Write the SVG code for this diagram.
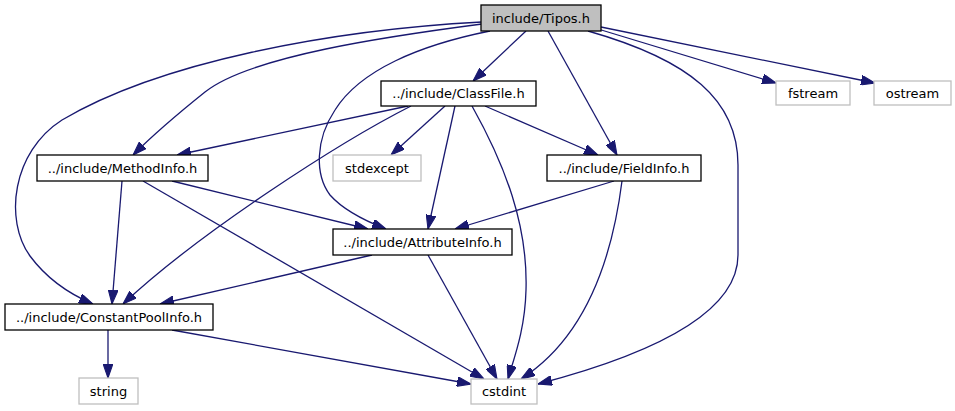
<svg xmlns="http://www.w3.org/2000/svg" width="955" height="411" viewBox="0 0 955 411">
<style>
.n rect{fill:#ffffff;stroke:#000000;stroke-width:1.3}
.x rect{fill:#ffffff;stroke:#bfbfbf;stroke-width:1.3}
.n text,.x text{font-family:"DejaVu Sans","Liberation Sans",sans-serif;font-size:13px;fill:#000000;text-anchor:middle}
#edges path{fill:none;stroke:#191970;stroke-width:1.3;marker-end:url(#ah)}
</style>
<defs>
<marker id="ah" markerUnits="userSpaceOnUse" markerWidth="14" markerHeight="10" viewBox="0 0 13 9" refX="13" refY="4.5" orient="auto">
<path d="M0,0 L13,4.5 L0,9 z" fill="#191970" stroke="#191970" stroke-width="1"/>
</marker>
</defs>
<rect width="955" height="411" fill="#ffffff"/>
<g id="edges">
<path d="M526,31 L473,81"/>
<path d="M482,24 C390,36 250,56 205,92 C180,112 152,136 133,155"/>
<path d="M482,22 C330,30 160,62 62,120 C12,152 4,220 30,256 C50,283 74,296 93,304"/>
<path d="M490,31 C420,45 360,70 335,110 C315,140 315,175 330,195 C345,212 368,222 386,229"/>
<path d="M548,31 L617,155"/>
<path d="M588,31 C690,60 738,100 738,165 L738,255 C738,320 630,360 538,384"/>
<path d="M598,29 L776,83"/>
<path d="M601,27 L875,83"/>
<path d="M408,106 L177,155"/>
<path d="M411,106 C340,142 200,232 123,304"/>
<path d="M445,106 L391,155"/>
<path d="M455,106 L428,229"/>
<path d="M472,106 C505,165 528,225 526,290 C525,330 514,358 508,379"/>
<path d="M485,106 L598,155"/>
<path d="M122,181 L112,304"/>
<path d="M172,181 L368,229"/>
<path d="M143,181 L484,379"/>
<path d="M614,181 L455,229"/>
<path d="M622,181 C612,260 585,338 521,379"/>
<path d="M372,255 L160,304"/>
<path d="M428,255 L497,379"/>
<path d="M108,330 L108,378"/>
<path d="M172,330 L471,384"/>
</g>
<g id="tipos" class="n"><rect x="481" y="5" width="120" height="26" style="fill:#bfbfbf"/><text x="541" y="22.5">include/Tipos.h</text></g>
<g id="classfile" class="n"><rect x="381" y="81" width="155" height="25"/><text x="458.5" y="98">../include/ClassFile.h</text></g>
<g id="methodinfo" class="n"><rect x="37" y="155" width="171" height="26"/><text x="122.5" y="172.5">../include/MethodInfo.h</text></g>
<g id="stdexcept" class="x"><rect x="333" y="155" width="88" height="26"/><text x="377" y="172.5">stdexcept</text></g>
<g id="fieldinfo" class="n"><rect x="547" y="155" width="154" height="26"/><text x="624" y="172.5">../include/FieldInfo.h</text></g>
<g id="attributeinfo" class="n"><rect x="333" y="229" width="179" height="26"/><text x="422.5" y="246.5">../include/AttributeInfo.h</text></g>
<g id="constantpoolinfo" class="n"><rect x="5" y="304" width="208" height="26"/><text x="109" y="321.5">../include/ConstantPoolInfo.h</text></g>
<g id="string" class="x"><rect x="79" y="378" width="59" height="26"/><text x="108.5" y="395.5">string</text></g>
<g id="cstdint" class="x"><rect x="471" y="379" width="66" height="25"/><text x="504" y="396">cstdint</text></g>
<g id="fstream" class="x"><rect x="776" y="81" width="74" height="24"/><text x="813" y="97.5">fstream</text></g>
<g id="ostream" class="x"><rect x="874" y="81" width="77" height="24"/><text x="912.5" y="97.5">ostream</text></g>
</svg>
